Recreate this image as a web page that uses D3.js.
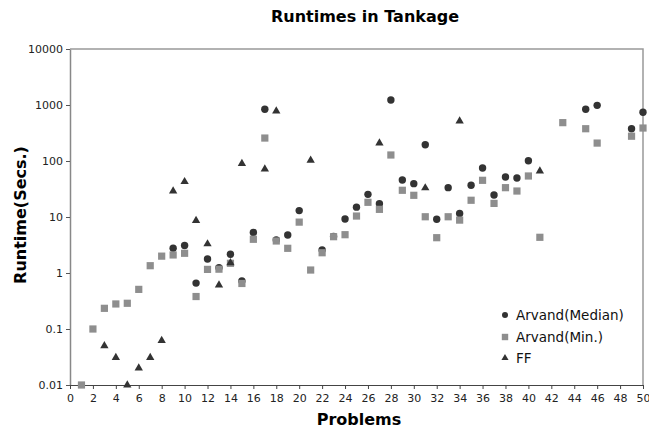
<!DOCTYPE html>
<html>
<head>
<meta charset="utf-8">
<script src="https://cdn.jsdelivr.net/npm/d3@7"></script>
<style>
  body { margin: 0; background: #fff; }
  svg { display: block; }
  text { font-family: "DejaVu Sans", Verdana, sans-serif; }
</style>
</head>
<body>
<svg id="chart" width="649" height="430"></svg>
<script>
// problem numbers 1..50
const problems = d3.range(1, 51)

// runtimes per problem, null = not solved / not shown
const median = [
  null, null, null, null, null, null, null, null, 2.76, 3.1,
  0.66, 1.78, 1.24, 2.16, 0.72, 5.3, 838, 3.9, 4.77, 13,
  null, 2.57, 4.5, 9.2, 15, 25.4, 17.3, 1228, 45.9, 39.4,
  195, 9.1, 33.4, 11.6, 36.8, 75, 24.7, 51.8, 49.7, 101,
  null, null, null, null, 838, 986, null, null, 377, 740
]
const minimum = [
  0.01, 0.1, 0.234, 0.28, 0.288, 0.51, 1.35, 2.0, 2.1, 2.25,
  0.38, 1.16, 1.17, 1.49, 0.65, 4.0, 257, 3.73, 2.76, 8.1,
  1.13, 2.3, 4.45, 4.83, 10.4, 18.3, 13.7, 128, 30, 24.4,
  10.1, 4.27, 10.1, 8.8, 19.9, 45.2, 17.5, 33.4, 29.1, 54,
  4.34, null, 484, null, 377, 209, null, null, 277, 388
]
const ff = [
  null, null, 0.05, 0.031, 0.01, 0.02, 0.031, 0.062, 29.1, 42.7,
  8.6, 3.3, 0.61, 1.52, 89.6, null, 71.9, 781, null, null,
  103, null, null, null, null, null, 209, null, null, null,
  33, null, null, 518, null, null, null, null, null, null,
  66.3, null, null, null, null, null, null, null, null, null
]

const xTicks = d3.range(0, 51, 2)
const yTicks = [0.01, 0.1, 1, 10, 100, 1000, 10000]
const yTickLabels = ["0.01", "0.1", "1", "10", "100", "1000", "10000"]

const seriesNames = ["Arvand(Median)", "Arvand(Min.)", "FF"]

const plotLeft = 70, plotRight = 643, plotTop = 49, plotBottom = 385

const svg = d3.select("#chart")

const xScale = d3.scaleLinear().domain([0, 50]).range([plotLeft, plotRight])
const yScale = d3.scaleLog().domain([0.01, 10000]).range([plotBottom, plotTop])

// frame (top + right)
svg.append("path")
  .attr("d", `M${plotLeft},${plotTop}H${plotRight}V${plotBottom}`)
  .attr("fill", "none")
  .attr("stroke", "#999")
  .attr("stroke-width", 1.5)

// y axis
const yAxis = svg.append("g")
  .attr("transform", `translate(${plotLeft},0)`)
  .call(d3.axisLeft(yScale).tickValues(yTicks)
    .tickFormat((d, i) => yTickLabels[i]).tickSize(4).tickSizeOuter(0))
yAxis.select(".domain").attr("stroke", "#888").attr("stroke-width", 1.5)
yAxis.selectAll(".tick line").attr("stroke", "#555")
yAxis.selectAll(".tick text")
  .attr("font-size", 11).attr("fill", "#222")
  .attr("font-family", "'DejaVu Sans', sans-serif")

// x axis
const xAxis = svg.append("g")
  .attr("transform", `translate(0,${plotBottom})`)
  .call(d3.axisBottom(xScale).tickValues(xTicks).tickSize(4).tickSizeOuter(0))
xAxis.select(".domain").attr("stroke", "#444").attr("stroke-width", 1.2)
xAxis.selectAll(".tick line").attr("stroke", "#444")
xAxis.selectAll(".tick text")
  .attr("font-size", 11).attr("fill", "#222").attr("dy", "0.9em")
  .attr("font-family", "'DejaVu Sans', sans-serif")

// titles
svg.append("text")
  .attr("x", 365).attr("y", 22)
  .attr("text-anchor", "middle")
  .attr("font-size", 16).attr("font-weight", "bold")
  .text("Runtimes in Tankage")

svg.append("text")
  .attr("x", 359).attr("y", 425)
  .attr("text-anchor", "middle")
  .attr("font-size", 16).attr("font-weight", "bold")
  .text("Problems")

svg.append("text")
  .attr("transform", "translate(26,215) rotate(-90)")
  .attr("text-anchor", "middle")
  .attr("font-size", 16).attr("font-weight", "bold")
  .text("Runtime(Secs.)")

const toPoints = arr => arr.map((v, i) => ({ p: problems[i], v })).filter(d => d.v !== null)

// medians (circles)
svg.append("g").selectAll("circle")
  .data(toPoints(median))
  .join("circle")
  .attr("cx", d => xScale(d.p))
  .attr("cy", d => yScale(d.v))
  .attr("r", 3.7)
  .attr("fill", "#333")

// minimums (squares)
svg.append("g").selectAll("rect")
  .data(toPoints(minimum))
  .join("rect")
  .attr("x", d => xScale(d.p) - 3.6)
  .attr("y", d => yScale(d.v) - 3.6)
  .attr("width", 7.2)
  .attr("height", 7.2)
  .attr("fill", "#8e8e8e")

// FF (triangles)
const tri = d3.symbol().type(d3.symbolTriangle).size(30)
svg.append("g").selectAll("path")
  .data(toPoints(ff))
  .join("path")
  .attr("transform", d => `translate(${xScale(d.p)},${yScale(d.v)})`)
  .attr("d", tri)
  .attr("fill", "#333")

// legend
const legend = svg.append("g")
const legendY = [315, 337, 358]
seriesNames.forEach((name, i) => {
  const g = legend.append("g").attr("transform", `translate(505,${legendY[i]})`)
  if (i === 0) g.append("circle").attr("r", 3).attr("fill", "#333")
  if (i === 1) g.append("rect").attr("x", -3.2).attr("y", -3.2).attr("width", 6.4).attr("height", 6.4).attr("fill", "#8e8e8e")
  if (i === 2) g.append("path").attr("d", d3.symbol().type(d3.symbolTriangle).size(22)).attr("fill", "#333")
  g.append("text")
    .attr("x", 11).attr("y", 5)
    .attr("font-size", 13.5).attr("fill", "#111")
    .text(name)
})
</script>
</body>
</html>
